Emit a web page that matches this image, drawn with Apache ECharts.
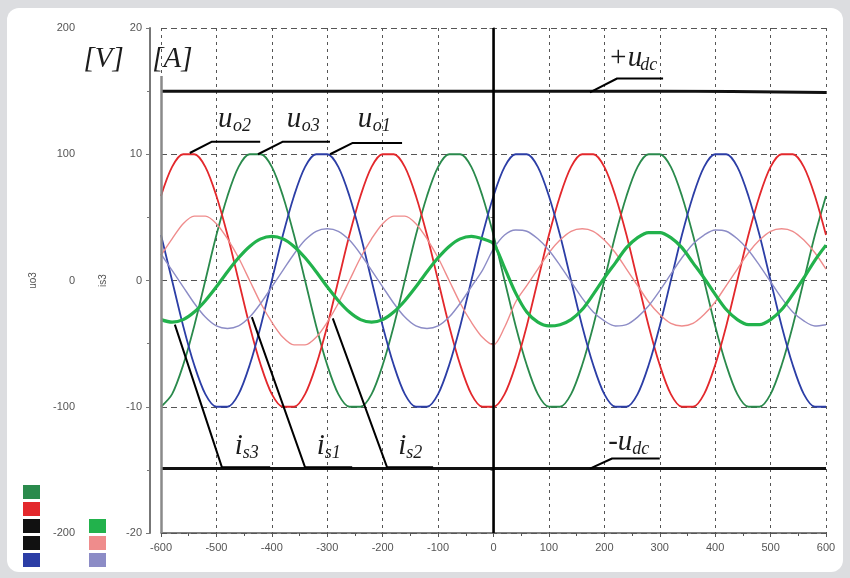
<!DOCTYPE html>
<html>
<head>
<meta charset="utf-8">
<script src="https://cdn.jsdelivr.net/npm/echarts@6/dist/echarts.min.js"></script>
<style>
  html, body { margin: 0; padding: 0; background: #dcdde0; }
  #panel { position: absolute; left: 7px; top: 8px; width: 836px; height: 564px; background: #fff; border-radius: 12px; }
  #chart { position: absolute; left: 0; top: 0; width: 850px; height: 578px; }
</style>
</head>
<body>
<div id="panel"></div>
<div id="chart"></div>
<script>
// sample positions (x axis units)
const xs = [-600,-580,-560,-540,-520,-500,-480,-460,-440,-420,
  -400,-380,-360,-340,-320,-300,-280,-260,-240,-220,
  -200,-180,-160,-140,-120,-100,-80,-60,-40,-20,
  0,20,40,60,80,100,120,140,160,180,
  200,220,240,260,280,300,320,340,360,380,
  400,420,440,460,480,500,520,540,560,580,600];

// output voltages [V]
const uo2 = [67,90,100,100,90,67,36,0,-36,-67,
  -90,-100,-100,-90,-67,-36,0,36,67,90,
  100,100,90,67,36,0,-36,-67,-90,-100,
  -100,-90,-67,-36,0,36,67,90,100,100,
  90,67,36,0,-36,-67,-90,-100,-100,-90,
  -67,-36,0,36,67,90,100,100,90,67,36];
const uo3 = [-100,-90,-67,-36,0,36,67,90,100,100,
  90,67,36,0,-36,-67,-90,-100,-100,-90,
  -67,-36,0,36,67,90,100,100,90,67,
  36,0,-36,-67,-90,-100,-100,-90,-67,-36,
  0,36,67,90,100,100,90,67,36,0,
  -36,-67,-90,-100,-100,-90,-67,-36,0,36,67];
const uo1 = [36,0,-36,-67,-90,-100,-100,-90,-67,-36,
  0,36,67,90,100,100,90,67,36,0,
  -36,-67,-90,-100,-100,-90,-67,-36,0,36,
  67,90,100,100,90,67,36,0,-36,-67,
  -90,-100,-100,-90,-67,-36,0,36,67,90,
  100,100,90,67,36,0,-36,-67,-90,-100,-100];

// dc link
const dcX = [-600, -300, 0, 300, 600];
const udcPos = [150, 150, 150, 150, 149];
const udcNeg = [-149, -149, -149, -149, -149];

// phase currents [A]
const is3 = [-3.1,-3.3,-3.1,-2.5,-1.6,-0.5,0.7,1.8,2.7,3.3,
  3.5,3.3,2.7,1.8,0.7,-0.5,-1.6,-2.5,-3.1,-3.3,
  -3.1,-2.5,-1.6,-0.5,0.7,1.8,2.7,3.3,3.5,3.3,
  2.9,1.0,-1.0,-2.5,-3.3,-3.6,-3.5,-3.1,-2.3,-1.1,
  0.2,1.4,2.6,3.4,3.8,3.8,3.4,2.6,1.4,0.2,
  -1.1,-2.3,-3.1,-3.5,-3.5,-3.1,-2.3,-1.1,0.2,1.6,2.8];
const is2 = [2.0,3.3,4.5,5.1,5.1,4.5,3.3,1.8,0,-1.8,
  -3.3,-4.5,-5.1,-5.1,-4.5,-3.3,-1.8,0,1.8,3.3,
  4.5,5.1,5.1,4.5,3.3,1.8,0,-1.8,-3.3,-4.5,
  -5.1,-3.7,-1.7,-0.4,0.9,2.2,3.2,3.9,4.1,3.9,
  3.2,2.2,0.9,-0.4,-1.7,-2.7,-3.4,-3.6,-3.4,-2.7,
  -1.7,-0.4,0.9,2.2,3.2,3.9,4.1,3.9,3.2,2.2,0.9];
const is1 = [2.1,0.8,-0.5,-1.8,-2.9,-3.6,-3.8,-3.6,-2.9,-1.8,
  -0.5,0.8,2.1,3.2,3.9,4.1,3.9,3.2,2.1,0.8,
  -0.5,-1.8,-2.9,-3.6,-3.8,-3.6,-2.9,-1.8,-0.5,0.8,
  2.5,3.6,4.0,3.9,3.3,2.4,1.2,-0.1,-1.4,-2.5,
  -3.2,-3.6,-3.5,-2.9,-2.0,-0.8,0.5,1.8,2.9,3.6,
  4.0,3.9,3.3,2.4,1.2,-0.1,-1.4,-2.5,-3.2,-3.6,-3.5];

// annotation leader lines (data coords, V axis)
const leaders = [
  [[-548, 101], [-508, 110], [-421, 110]],
  [[-425, 100], [-380, 110], [-295, 110]],
  [[-295, 100], [-254, 109], [-165, 109]],
  [[174, 149], [223, 160], [306, 160]],
  [[174, -149], [214, -141], [300, -141]],
  [[-575, -35], [-490, -148], [-403, -148]],
  [[-436, -29], [-340, -148], [-255, -148]],
  [[-290, -30], [-192, -148], [-109, -148]]
];

// annotation texts: left edge x and baseline y in data coords
const notes = [
  { main: '[V]', sub: '', x: -740, y: 168, dx: 0 },
  { main: '[A]', sub: '', x: -616, y: 168, dx: 0 },
  { main: 'u', sub: 'o2', x: -497, y: 121, dx: 15 },
  { main: 'u', sub: 'o3', x: -373, y: 121, dx: 15 },
  { main: 'u', sub: 'o1', x: -245, y: 121, dx: 15 },
  { main: '+u', sub: 'dc', x: 207, y: 169, dx: 32 },
  { main: '-u', sub: 'dc', x: 207, y: -135, dx: 24 },
  { main: 'i', sub: 's3', x: -467, y: -138, dx: 8 },
  { main: 'i', sub: 's1', x: -319, y: -138, dx: 8 },
  { main: 'i', sub: 's2', x: -172, y: -138, dx: 8 }
];

const chart = echarts.init(document.getElementById('chart'));
const pairs = (xv, yv) => xv.map((x, i) => [x, yv[i]]);

const labelStyle = { color: '#555', fontSize: 11, fontFamily: 'Liberation Sans' };

function wave(name, data, color, width, axis) {
  return {
    name: name,
    type: 'line',
    yAxisIndex: axis,
    data: data,
    showSymbol: false,
    smooth: 0.3,
    silent: true,
    color: color,
    lineStyle: { color: color, width: width }
  };
}

const series = [
  Object.assign(wave('uo3', pairs(xs, uo3), '#2a8a4c', 1.8, 0), {
    markLine: {
      silent: true, symbol: 'none', label: { show: false },
      data: [
        { xAxis: 0, lineStyle: { color: '#000', width: 2.5, type: 'solid' } },
        [{ coord: [-600, 162], lineStyle: { color: '#8a8a8a', width: 2.5, type: 'solid' } }, { coord: [-600, -200] }]
      ]
    }
  }),
  wave('uo2', pairs(xs, uo2), '#e3282c', 1.8, 0),
  wave('uo1', pairs(xs, uo1), '#2c3ea6', 1.8, 0),
  wave('+udc', pairs(dcX, udcPos), '#111', 3, 0),
  wave('-udc', pairs(dcX, udcNeg), '#111', 3, 0),
  wave('is2', pairs(xs, is2), '#ef8c8c', 1.4, 1),
  wave('is1', pairs(xs, is1), '#8c8cc6', 1.4, 1),
  wave('is3', pairs(xs, is3), '#22b24c', 3.2, 1)
];

leaders.forEach(function (pts) {
  series.push({
    type: 'line', yAxisIndex: 0, data: pts, showSymbol: false, silent: true,
    lineStyle: { color: '#000', width: 2 }, z: 5
  });
});

chart.setOption({
  animation: false,
  grid: { left: 161, right: 24, top: 28, bottom: 45 },
  legend: [
    {
      data: ['uo3', 'uo2', '+udc', '-udc', 'uo1'],
      orient: 'vertical', left: 23, top: 485, padding: 0,
      itemWidth: 17, itemHeight: 14, itemGap: 3, icon: 'rect',
      selectedMode: false, formatter: () => '', textStyle: { fontSize: 1 }
    },
    {
      data: ['is3', 'is2', 'is1'],
      orient: 'vertical', left: 89, top: 519, padding: 0,
      itemWidth: 17, itemHeight: 14, itemGap: 3, icon: 'rect',
      selectedMode: false, formatter: () => '', textStyle: { fontSize: 1 }
    }
  ],
  xAxis: {
    type: 'value', min: -600, max: 600, interval: 100,
    axisLine: { onZero: false, lineStyle: { color: '#555', width: 1.5 } },
    axisTick: { length: 4, lineStyle: { color: '#555' } },
    minorTick: { show: true, splitNumber: 2, length: 3, lineStyle: { color: '#555' } },
    axisLabel: Object.assign({ margin: 9 }, labelStyle),
    splitLine: { show: true, lineStyle: { color: '#555', width: 1, type: [3, 4] } }
  },
  yAxis: [
    {
      type: 'value', min: -200, max: 200, interval: 100,
      position: 'left', offset: 78,
      name: 'uo3', nameLocation: 'middle', nameGap: 45, nameRotate: 90,
      nameTextStyle: { color: '#555', fontSize: 10, fontFamily: 'Liberation Sans' },
      axisLine: { show: true, lineStyle: { color: '#8a8a8a', width: 2 } },
      axisTick: { show: true, length: 4, lineStyle: { color: '#777' } },
      minorTick: { show: true, splitNumber: 2, length: 3, lineStyle: { color: '#777' } },
      axisLabel: Object.assign({ margin: 8 }, labelStyle),
      splitLine: { show: true, lineStyle: { color: '#555', width: 1, type: [6, 4] } }
    },
    {
      type: 'value', min: -20, max: 20, interval: 10,
      position: 'left', offset: 11,
      name: 'is3', nameLocation: 'middle', nameGap: 42, nameRotate: 90,
      nameTextStyle: { color: '#555', fontSize: 10, fontFamily: 'Liberation Sans' },
      axisLine: { show: true, lineStyle: { color: '#777', width: 2 } },
      axisTick: { show: true, length: 4, lineStyle: { color: '#777' } },
      minorTick: { show: true, splitNumber: 2, length: 3, lineStyle: { color: '#777' } },
      axisLabel: Object.assign({ margin: 8 }, labelStyle),
      splitLine: { show: false }
    }
  ],
  series: series
});

// place the italic labels from data coords
const mainSize = 29, subSize = 18;
const graphics = [];
notes.forEach(function (n) {
  const p = chart.convertToPixel({ seriesIndex: 0 }, [n.x, n.y]);
  graphics.push({
    type: 'text', x: p[0], y: p[1] - 0.3 * mainSize, z: 10,
    style: {
      text: n.main, fill: '#1c1c1c', fontSize: mainSize, fontStyle: 'italic',
      fontFamily: 'Liberation Serif', align: 'left', verticalAlign: 'middle'
    }
  });
  if (n.sub) {
    graphics.push({
      type: 'text', x: p[0] + n.dx, y: p[1] + 4 - 0.3 * subSize, z: 10,
      style: {
        text: n.sub, fill: '#1c1c1c', fontSize: subSize, fontStyle: 'italic',
        fontFamily: 'Liberation Serif', align: 'left', verticalAlign: 'middle'
      }
    });
  }
});
chart.setOption({ graphic: graphics });
</script>
</body>
</html>
